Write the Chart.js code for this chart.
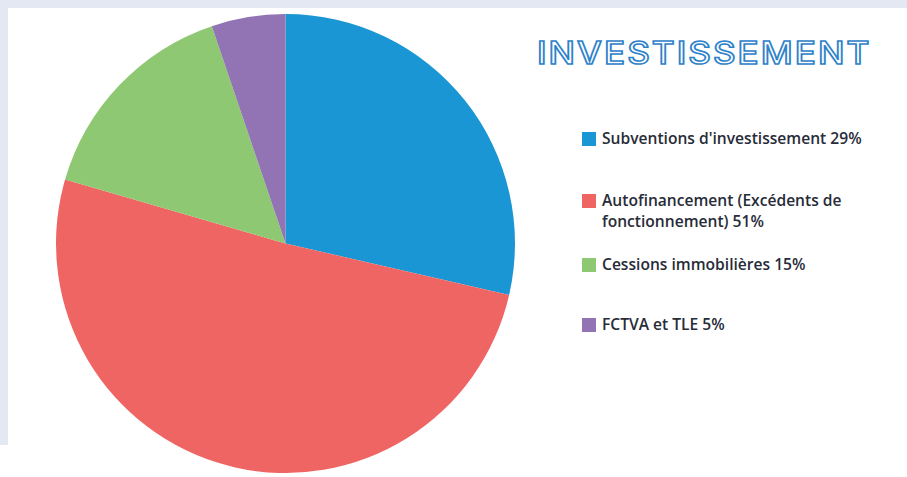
<!DOCTYPE html>
<html>
<head>
<meta charset="utf-8">
<script src="https://cdn.jsdelivr.net/npm/chart.js@4.4.0/dist/chart.umd.min.js"></script>
<style>
  html, body { margin: 0; padding: 0; background: #fff; }
  #frame { position: absolute; left: 0; top: 0; width: 907px; height: 445px; background: #e4e8f2; }
  #panel { position: absolute; left: 8px; top: 8px; width: 899px; height: 469px; background: #fff; }
  #pieBox { position: absolute; left: 56px; top: 14px; width: 459px; height: 459px; }
  #title {
    position: absolute; left: 537px; top: 34px;
    font-family: Inter, "DejaVu Sans", sans-serif; font-weight: 500; font-size: 31px;
    letter-spacing: 1.8px; color: #fff;
    -webkit-text-stroke: 1.6px #2e82c9;
    white-space: nowrap;
    transform: scaleX(1.13); transform-origin: left top;
  }
  #legend { position: absolute; left: 582px; top: 0; font-family: "Open Sans", sans-serif; font-weight: 600; font-size: 15.6px; color: #272c38; }
  .item { position: absolute; left: 0; white-space: nowrap; line-height: 21px; }
  .box { position: absolute; left: 0; top: 4px; width: 14px; height: 14px; }
  .lbl { position: absolute; left: 20px; top: 0; }
</style>
</head>
<body>
<div id="frame"></div>
<div id="panel"></div>
<div id="pieBox"><canvas id="pie"></canvas></div>
<div id="title">INVESTISSEMENT</div>
<div id="legend"></div>
<script>
const categories = [
  "Subventions d'investissement",
  "Autofinancement (Excédents de fonctionnement)",
  "Cessions immobilières",
  "FCTVA et TLE"
];
// slice sizes as measured on the pie
const shares = [28.6, 50.9, 15.3, 5.2];
const colours = ["#1a96d4", "#ef6563", "#8fc872", "#9274b4"];
// legend lines as printed (second item wraps)
const legendLines = [
  ["Subventions d'investissement 29%"],
  ["Autofinancement (Excédents de", "fonctionnement) 51%"],
  ["Cessions immobilières 15%"],
  ["FCTVA et TLE 5%"]
];
const legendTops = [128, 190, 254, 314];

new Chart(document.getElementById("pie"), {
  type: "pie",
  data: {
    labels: categories,
    datasets: [{ data: shares, backgroundColor: colours, borderWidth: 0 }]
  },
  options: {
    responsive: true,
    maintainAspectRatio: false,
    animation: false,
    layout: { padding: 0 },
    plugins: { legend: { display: false }, tooltip: { enabled: false } }
  }
});

// html legend
const legend = document.getElementById("legend");
legendLines.forEach((lines, i) => {
  const item = document.createElement("div");
  item.className = "item";
  item.style.top = legendTops[i] + "px";
  item.innerHTML = `<div class="box" style="background:${colours[i]}"></div><div class="lbl">${lines.join("<br>")}</div>`;
  legend.appendChild(item);
});
</script>
</body>
</html>
